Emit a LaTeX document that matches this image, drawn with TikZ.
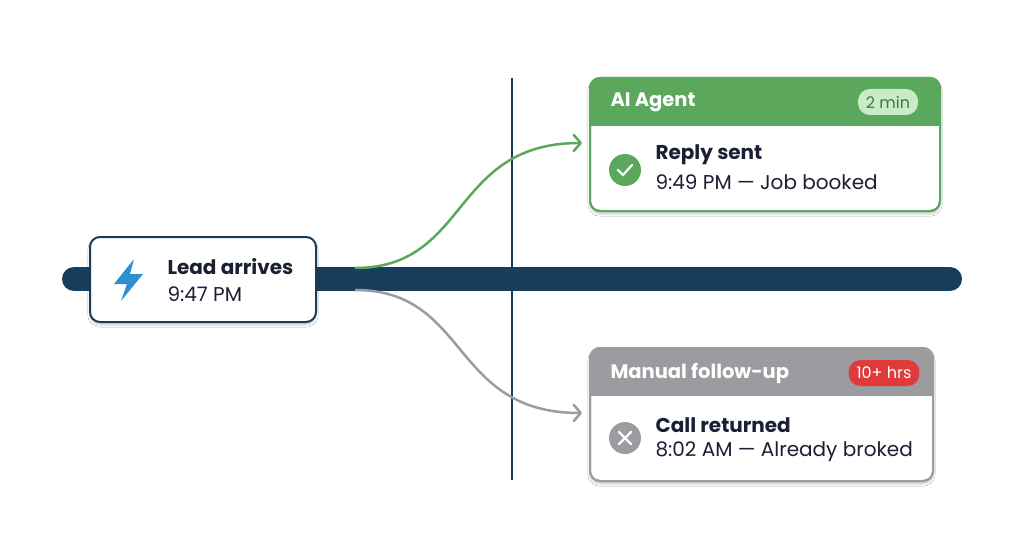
\documentclass[tikz,border=0pt]{standalone}
\usepackage{fontspec}
\setmainfont{Poppins}
\usetikzlibrary{arrows.meta,shadows.blur}
\definecolor{navy}{HTML}{163E5C}
\definecolor{agreen}{HTML}{5BA85C}
\definecolor{pgreen}{HTML}{C9EBC6}
\definecolor{mgray}{HTML}{9C9CA0}
\definecolor{ared}{HTML}{E03A3A}
\definecolor{bolt}{HTML}{2E8FD0}
\definecolor{txt}{HTML}{1B1F33}
\tikzset{
  pill/.style={rounded corners=12pt,inner xsep=8pt,inner ysep=0pt,minimum height=26pt,font=\fontsize{16}{16}\selectfont},
  title/.style={text=white,font=\bfseries\fontsize{19.5}{19}\selectfont,anchor=west},
  main/.style={text=txt,font=\bfseries\fontsize{20}{22}\selectfont,anchor=west},
  sub/.style={text=txt,font=\fontsize{20}{22}\selectfont,anchor=west},
  shd/.style={blur shadow={shadow blur steps=6,shadow xshift=0pt,shadow yshift=-3pt,shadow opacity=20}},
  conn/.style={line width=2.5pt,-{Straight Barb[length=7pt,width=16pt,round]}},
}
\begin{document}
\begin{tikzpicture}[x=1pt,y=-1pt]
\useasboundingbox[fill=white] (0,0) rectangle (1024,559);
% timeline
\draw[navy,line width=24pt,line cap=round] (74,279) -- (950,279);
% vertical divider
\draw[navy,line width=1.5pt] (512,78) -- (512,480);
% curves
\coordinate (gS) at (355,268);
\coordinate (rS) at (355,290);
\coordinate (gE) at (582,143);
\coordinate (rE) at (582,413);
\draw[agreen,conn] (gS) .. controls (470,268) and (450,143) .. (gE);
\draw[mgray,conn] (rS) .. controls (470,290) and (450,413) .. (rE);
% lead box
\node[draw=navy,line width=2pt,rounded corners=10pt,fill=white,minimum width=226pt,minimum height=85pt,shd] (lead) at (203,279.5) {};
\fill[bolt] (134,259) -- (114,284) -- (127,284) -- (121,301) -- (143,274) -- (130,274) -- cycle;
\node[main] (leadt) at (164,267) {Lead arrives};
\node[sub] (leadtime) at (164,294) {9:47 PM};
% AI card
\node[draw=agreen,line width=2pt,rounded corners=10pt,fill=white,minimum width=350pt,minimum height=133pt,shd] (ai) at (765,144.5) {};
\begin{scope}
\clip[rounded corners=10pt] (590,78) rectangle (940,211);
\fill[agreen] (590,78) rectangle (940,126);
\end{scope}
\draw[agreen,line width=2pt,rounded corners=10pt] (590,78) rectangle (940,211);
\node[title] (ait) at (607,102) {AI Agent};
\node[pill,fill=pgreen,text=agreen!70!black] (aip) at (888,102) {2 min};
\fill[agreen] (625,170) circle (16);
\draw[white,line width=2.2pt,line cap=round,line join=round] (618,170) -- (623,175) -- (632,165);
\node[main] (ait1) at (652,155) {Reply sent};
\node[sub] (ait2) at (652,182) {9:49 PM — Job booked};
% manual card
\node[draw=mgray,line width=2pt,rounded corners=10pt,fill=white,minimum width=343pt,minimum height=133pt,shd] (man) at (761.5,414.5) {};
\begin{scope}
\clip[rounded corners=10pt] (590,348) rectangle (933,481);
\fill[mgray] (590,348) rectangle (933,396);
\end{scope}
\draw[mgray,line width=2pt,rounded corners=10pt] (590,348) rectangle (933,481);
\node[title] (mant) at (607,373) {Manual follow-up};
\node[pill,fill=ared,text=white] (manp) at (884,373) {10+ hrs};
\fill[mgray] (625,438) circle (16);
\draw[white,line width=2.2pt,line cap=round] (619,432) -- (631,444) (631,432) -- (619,444);
\node[main] (mant1) at (652,425) {Call returned};
\node[sub] (mant2) at (652,452) {8:02 AM — Already broked};
\end{tikzpicture}
\end{document}
